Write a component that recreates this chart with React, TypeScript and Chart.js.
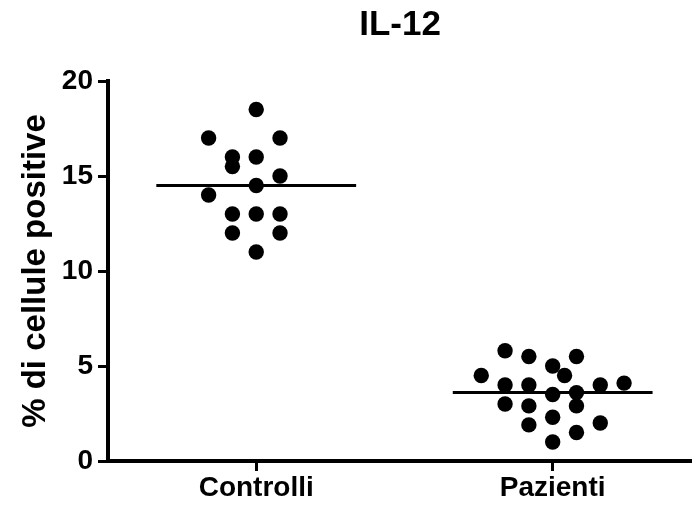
import React, { useEffect, useRef } from "react";
import { Chart, registerables } from "chart.js";

Chart.register(...registerables);

const categories = ["Controlli", "Pazienti"];
const controlliValues = [18.5, 17, 17, 16, 16, 15.5, 15, 14.5, 14, 13, 13, 13, 12, 12, 11];
const controlliSlots = [0, -2, 1, -1, 0, -1, 1, 0, -2, -1, 0, 1, -1, 1, 0];
const pazientiValues = [5.8, 5.5, 5.5, 5, 4.5, 4.5, 4, 4, 4, 4.1, 3.5, 3.6, 3, 2.9, 2.9, 2.3, 1.9, 2, 1.5, 1.0];
const pazientiSlots = [-2, -1, 1, 0, 0.5, -3, -2, -1, 2, 3, 0, 1, -2, -1, 1, 0, -1, 2, 1, 0];
const medians = [14.5, 3.6];
const yTicks = [0, 5, 10, 15, 20];

const SLOT = 0.0803;
const MEDIAN_HALF = 0.337;
const FONT = "'Liberation Sans', Arial, sans-serif";

export default function App() {
  const ref = useRef<HTMLCanvasElement | null>(null);

  useEffect(() => {
    if (!ref.current) return;
    const groups = [
      { values: controlliValues, slots: controlliSlots },
      { values: pazientiValues, slots: pazientiSlots },
    ];
    const pointSets = groups.map((g, gi) => ({
      type: "scatter" as const,
      label: categories[gi],
      data: g.values.map((v, i) => ({ x: gi + g.slots[i] * SLOT, y: v })),
      backgroundColor: "#000",
      borderColor: "#000",
      borderWidth: 0,
      pointRadius: 7.7,
      pointHoverRadius: 7.7,
      clip: false as any,
    }));
    const medianSets = medians.map((m, gi) => ({
      type: "line" as const,
      label: categories[gi] + " median",
      data: [
        { x: gi - MEDIAN_HALF, y: m },
        { x: gi + MEDIAN_HALF, y: m },
      ],
      borderColor: "#000",
      borderWidth: 3,
      pointRadius: 0,
      fill: false,
      clip: false as any,
    }));

    const chart = new Chart(ref.current, {
      type: "scatter",
      data: { datasets: [...medianSets, ...pointSets] as any },
      options: {
        responsive: false,
        animation: false,
        layout: { padding: 0, autoPadding: false },
        plugins: {
          legend: { display: false },
          tooltip: { enabled: false },
          title: {
            display: true,
            text: "IL-12",
            color: "#000",
            fullSize: false,
            font: { family: FONT, size: 35, weight: "bold" },
            padding: { top: 4, bottom: 35 },
          },
        },
        scales: {
          x: {
            type: "linear",
            min: -0.5,
            max: 1.47,
            afterBuildTicks: (s: any) => {
              s.ticks = categories.map((_, i) => ({ value: i }));
            },
            afterFit: (s: any) => {
              s.height = 46;
            },
            ticks: {
              autoSkip: false,
              maxRotation: 0,
              color: "#000",
              padding: 0,
              font: { family: FONT, size: 28, weight: "bold" },
              callback: (v: any) => categories[v as number] ?? "",
            },
            grid: {
              drawOnChartArea: false,
              drawTicks: true,
              tickLength: 10,
              tickWidth: 3,
              color: "#000",
            },
            border: { display: true, width: 4, color: "#000" },
          },
          y: {
            type: "linear",
            min: 0,
            max: 20,
            afterBuildTicks: (s: any) => {
              s.ticks = yTicks.map((v) => ({ value: v }));
            },
            afterFit: (s: any) => {
              s.width = 108;
            },
            ticks: {
              color: "#000",
              padding: 5,
              font: { family: FONT, size: 28, weight: "bold" },
            },
            grid: {
              drawOnChartArea: false,
              drawTicks: true,
              tickLength: 10,
              tickWidth: 3,
              color: "#000",
            },
            border: { display: true, width: 4, color: "#000" },
            title: {
              display: true,
              text: "% di cellule positive",
              color: "#000",
              font: { family: FONT, size: 33, weight: "bold" },
              padding: { top: 16, bottom: 0 },
            },
          },
        },
      },
    });
    return () => chart.destroy();
  }, []);

  return (
    <div style={{ position: "absolute", left: 0, top: 0, width: 692, height: 507 }}>
      <canvas ref={ref} width={692} height={507} style={{ display: "block" }} />
    </div>
  );
}
